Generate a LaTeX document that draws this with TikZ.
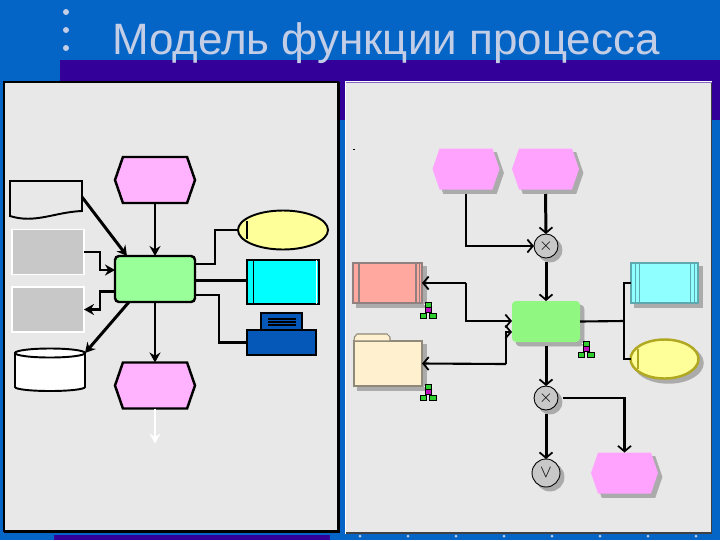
\documentclass[tikz,border=0pt]{standalone}
\usepackage{amsmath}
\usepackage{amssymb}
\usepackage{fontspec}
\setmainfont{Liberation Sans}
\usetikzlibrary{shapes.geometric,shapes.symbols,shadows,arrows.meta}
\definecolor{slideblue}{HTML}{0565C6}
\definecolor{barpurple}{HTML}{330099}
\definecolor{titlecol}{HTML}{C3CEE6}
\definecolor{panelgray}{HTML}{E8E8E8}
\definecolor{shadegray}{HTML}{ABABAB}
\definecolor{evpink}{HTML}{FFB3FF}
\definecolor{evpinkb}{HTML}{FFA3FF}
\definecolor{fungreen}{HTML}{99FF99}
\definecolor{fungreenb}{HTML}{90F880}
\definecolor{clustyellow}{HTML}{FFFF99}
\definecolor{oliveline}{HTML}{B0A820}
\definecolor{infocyan}{HTML}{00FFFF}
\definecolor{infocyanb}{HTML}{90FFFF}
\definecolor{tealline}{HTML}{60A8B0}
\definecolor{redbox}{HTML}{FFA8A0}
\definecolor{redline}{HTML}{908080}
\definecolor{foldercol}{HTML}{FFF0D0}
\definecolor{folderline}{HTML}{908878}
\definecolor{printblue}{HTML}{0558B8}
\definecolor{boxgray}{HTML}{C8C8C8}
\definecolor{orggreen}{HTML}{30CC30}
\definecolor{orgpurple}{HTML}{C010C0}
\tikzset{
  every node/.append style={inner sep=0pt,outer sep=0pt},
  dropshade/.style={copy shadow={shadow xshift=0.8mm,shadow yshift=-0.8mm,fill=shadegray,draw=shadegray,opacity=1}},
  hexbox/.style={signal,signal to=east and west,signal pointer angle=142,minimum width=16mm,minimum height=9.2mm,draw=black,line width=1.4pt,fill=evpink},
  hexboxb/.style={signal,signal to=east and west,signal pointer angle=142,minimum width=13.4mm,minimum height=8.2mm,fill=evpinkb,dropshade},
  funbox/.style={rectangle,rounded corners=0.8mm,minimum width=16mm,minimum height=9.2mm,draw=black,line width=1.4pt,fill=fungreen},
  funboxb/.style={rectangle,rounded corners=0.8mm,minimum width=13.6mm,minimum height=8.2mm,fill=fungreenb,dropshade},
  graybox/.style={rectangle,minimum width=14.4mm,minimum height=9mm,draw=white,line width=1pt,fill=boxgray},
  joint/.style={circle,minimum size=4.8mm,draw=black,line width=0.5pt,fill=boxgray,dropshade},
  conn/.style={black,line width=1.7pt},
  connthin/.style={black,line width=1.2pt},
  arr/.style={-{Stealth[length=2mm,width=2.2mm]}},
  barb/.style={-{Straight Barb[length=1.1mm,width=2.6mm,line width=1pt]}},
}
\begin{document}
\begin{tikzpicture}[x=0.2mm,y=0.2mm]
\useasboundingbox (0,-540) rectangle (720,0);
\fill [slideblue] (0,-540) rectangle (720,0);
\fill [barpurple] (60,-120) rectangle (720,-60);
\fill [barpurple] (54,-540) rectangle (330,-535);
% title
\foreach \y in {-12,-30,-48}
  \fill [titlecol] (66,\y) circle (3);
\node (title) [anchor=base west,text=titlecol,font=\fontsize{25}{30}\selectfont] at (112,-54) {Модель функции процесса};
\foreach \x in {360,408,...,696}
  \fill [titlecol] (\x,-536) circle (1.5);
% panels
\node (panelL) [rectangle,minimum width=66.8mm,minimum height=89.8mm,fill=panelgray,draw=black,line width=0.7pt] at (171,-306.5) {};
\draw [black,line width=1.7pt] (panelL.north east) -- (panelL.south east) -- (panelL.south west);
\node (panelR) [rectangle,minimum width=73.2mm,minimum height=90.2mm,fill=panelgray,draw=white,line width=0.8pt] at (528.5,-307.5) {};
\draw [black!75,line width=1pt] (panelR.north east) -- (panelR.south east) -- (panelR.south west);
\draw [barpurple!60,line width=0.5pt] (panelR.north west) -- (panelR.north east);
\fill [black] (353,-148.5) rectangle (355,-149.2);
% left part
\node (evTop) [hexbox] at (155,-180) {};
\node (funL) [funbox] at (155,-279) {};
\node (evBot) [hexbox] at (155,-385.5) {};
\node (docL) [rectangle,minimum width=14.4mm,minimum height=6mm] at (46,-196) {};
\draw [black,line width=1.1pt,fill=panelgray] (docL.north east) -- (docL.north west) -- (10,-216)
  .. controls (35,-224) and (55,-212) .. (docL.south east) -- cycle;
\node (grayA) [graybox] at (48,-252) {};
\node (grayB) [graybox] at (48,-309.5) {};
\node (store) [rectangle,minimum width=14mm,minimum height=6.8mm] at (50,-370) {};
\draw [black,line width=1.1pt,fill=white] (store.north west) -- (store.south west)
  arc [start angle=180,end angle=360,x radius=35,y radius=4] -- (store.north east);
\node (storeTop) [ellipse,minimum width=14mm,minimum height=1.8mm,draw=black,line width=1.1pt,fill=white] at (store.north) {};
\node (clustL) [ellipse,minimum width=18mm,minimum height=7.8mm,draw=black,line width=1.1pt,fill=clustyellow] at (283,-230) {};
\draw [black,line width=1.1pt] (247,-221) -- (247,-239);
\node (infoL) [rectangle,minimum width=14.4mm,minimum height=8.8mm,draw=black,line width=1.1pt,fill=infocyan] at (283,-282) {};
\draw [black,line width=0.5pt] ([xshift=1.3mm]infoL.north west) -- ([xshift=1.3mm]infoL.south west);
\draw [white,line width=0.5pt] ([xshift=-0.5mm]infoL.north east) -- ([xshift=-0.5mm]infoL.south east);
\node (printTop) [rectangle,minimum width=8.2mm,minimum height=3.4mm,draw=black,line width=1.1pt,fill=printblue] at (281.5,-321.5) {};
\node (printer) [rectangle,minimum width=13.8mm,minimum height=5mm,draw=black,line width=1.1pt,fill=printblue] at (281.5,-342.5) {};
\foreach \y in {-319,-322,-325}
  \draw [black,line width=0.6pt] (268,\y) -- (296,\y);
\draw [conn,arr] (evTop) -- (funL);
\draw [conn,arr] (docL.north east |- 0,-197) -- ([xshift=2.4mm]funL.north west);
\draw [connthin,arr] (grayA.east) -- ++(16,0) |- ([yshift=1.8mm]funL.west);
\draw [conn,arr] ([yshift=-2.4mm]funL.west) -- ++(-15,0) |- (grayB.east);
\draw [conn,arr] ([xshift=2.8mm]funL.south west) -- (store.north east);
\draw [conn,arr] (funL) -- (evBot);
\draw [white,line width=1.4pt,arr] (evBot.south) -- ++(0,-35) coordinate (outEnd);
\draw [connthin] ([yshift=3mm]funL.east) -- ++(20,0) |- (clustL.west);
\draw [conn] ([yshift=-0.2mm]funL.east) -- (infoL.west |- 0,-280);
\draw [connthin] ([yshift=-3.2mm]funL.east) -- ++(24,0) |- (printer.west);
% right part
\node (evA) [hexboxb] at (466,-169) {};
\node (evB) [hexboxb] at (545.5,-169) {};
\node (jointA) [joint] at (546,-246) {$\times$};
\node (funR) [funboxb] at (546,-321.5) {};
\node (jointB) [joint] at (546,-398) {$\times$};
\node (jointC) [joint,minimum size=5.6mm] at (546,-473) {$\vee$};
\node (evC) [hexboxb] at (624.5,-473) {};
\node (redB) [rectangle,minimum width=13.8mm,minimum height=8mm,fill=redbox,draw=redline,line width=0.9pt,dropshade] at (387.5,-283) {};
\foreach \x in {0.5,1.2}
  \draw [redline,line width=0.6pt] ([xshift=-\x mm]redB.north east) -- ([xshift=-\x mm]redB.south east);
\draw [redline,line width=1.4pt] ([xshift=1.2mm]redB.north west) -- ([xshift=1.2mm]redB.south west);
\node (infoR) [rectangle,minimum width=13.4mm,minimum height=8mm,fill=infocyanb,draw=tealline,line width=0.6pt,dropshade] at (664.5,-283) {};
\foreach \x in {0.8,1.6}{
  \draw [tealline,line width=0.5pt] ([xshift=\x mm]infoR.north west) -- ([xshift=\x mm]infoR.south west);
  \draw [tealline,line width=0.5pt] ([xshift=-\x mm]infoR.north east) -- ([xshift=-\x mm]infoR.south east);
}
\node (folder) [rectangle,minimum width=13.6mm,minimum height=9mm,fill=foldercol,draw=folderline,line width=0.6pt,dropshade] at (388,-363.5) {};
\draw [folderline,line width=0.6pt,fill=foldercol] (folder.north west) -- (354.5,-337) -- (357,-334) -- (387,-334) -- (390,-337) -- (390,-341) -- cycle;
\node (clustR) [ellipse,minimum width=13.6mm,minimum height=7.8mm,fill=clustyellow,draw=oliveline,line width=1.4pt,dropshade] at (664.5,-359) {};
\draw [oliveline,line width=0.8pt] (638,-349) -- (638,-369);
\draw [connthin,barb] (evA.south |- 0,-194) |- (jointA.west);
\draw [conn,barb] (evB.south |- 0,-194) -- (jointA.north);
\draw [conn,barb] (jointA.south |- 0,-262) -- (funR.north);
\coordinate (elbowA) at (466,-283);
\coordinate (elbowB) at (506,-364);
\draw [connthin,barb] (elbowA) -- (466,-321) -- (funR.west |- 0,-321);
\draw [connthin,barb] (elbowA) -- (redB.east);
\draw [connthin,barb] (elbowB) -- (506,-332) -- (funR.west |- 0,-332);
\draw [connthin,barb] (elbowB) -- (folder.east);
\draw [conn,barb] (funR.south |- 0,-346) -- (jointB.north);
\draw [conn,barb] (jointB.south |- 0,-414) -- (jointC.north);
\draw [connthin,barb] ([xshift=1mm]jointB.east) -| (evC.north);
\draw [connthin] (funR.east) -- (624,-321) coordinate (busR);
\draw [connthin] (infoR.west) -| (busR) |- (clustR.west);
% org icons
\foreach \x/\y in {428/-310,586/-349,428/-392}{
  \draw [white,line width=0.5pt] (\x-4.5,\y+6) -- (\x+4.5,\y+6);
  \draw [black,line width=0.5pt,fill=orggreen] (\x-3,\y+8) rectangle (\x+3,\y+2.5);
  \draw [black,line width=0.5pt,fill=orgpurple] (\x-3,\y+2.5) rectangle (\x+3,\y-2.5);
  \draw [black,line width=0.5pt,fill=orggreen] (\x-8,\y-3) rectangle (\x-1.5,\y-8);
  \draw [black,line width=0.5pt,fill=orggreen] (\x+1.5,\y-3) rectangle (\x+8,\y-8);
}
\end{tikzpicture}
\end{document}
